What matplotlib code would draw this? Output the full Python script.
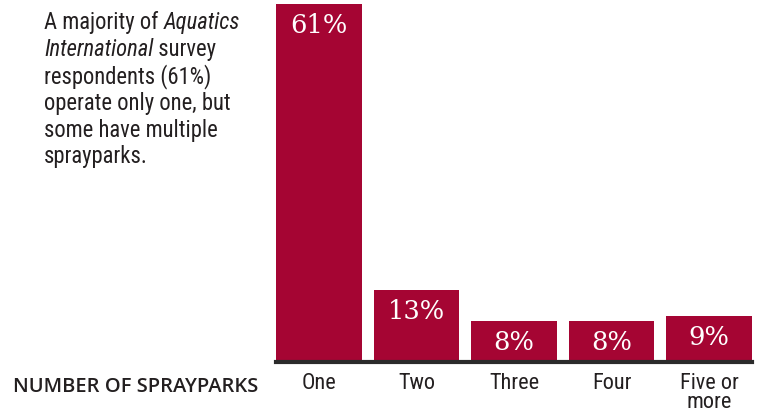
import matplotlib
matplotlib.use('Agg')
import matplotlib.pyplot as plt

categories = ['One', 'Two', 'Three', 'Four', 'Five or\nmore']
# bar heights (percent of respondents)
values = [61, 12.3, 7.0, 7.0, 7.9]
value_labels = ['61%', '13%', '8%', '8%', '9%']
axis_title = 'NUMBER OF SPRAYPARKS'
# caption lines as (text, italic) segments
caption_lines = [
    [('A majority of ', False), ('Aquatics', True)],
    [('International', True), (' survey', False)],
    [('respondents (61%)', False)],
    [('operate only one, but', False)],
    [('some have multiple', False)],
    [('sprayparks.', False)],
]

BAR = '#a50533'
TXT = '#231f20'
NARROW = ['Roboto Condensed', 'DejaVu Sans']
SERIF = ['DejaVu Serif']

W, H = 760, 416
fig = plt.figure(figsize=(W / 100, H / 100), dpi=100)
ax = fig.add_axes([276 / W, (H - 362) / H, 476 / W, 358 / H])
x = list(range(len(values)))
ax.bar(x, values, width=0.88, color=BAR, zorder=2)
ax.set_xlim(-0.44, len(values) - 0.56)
ax.set_ylim(0, max(values))
for s in ax.spines.values():
    s.set_visible(False)
ax.set_yticks([])
ax.axhline(0, color='#2b2b2b', lw=3, zorder=3, clip_on=False)
ax.set_xticks(x)
ax.set_xticklabels(categories, fontsize=16, family=NARROW, color=TXT, linespacing=0.85)
ax.tick_params(axis='x', length=0, pad=8)

for i, (v, lab) in enumerate(zip(values, value_labels)):
    ax.annotate(lab, (i, v), xytext=(0, -6.5), textcoords='offset points',
                ha='center', va='top', color='white', fontsize=18.5, family=SERIF)

fig.text(258 / W, (H - 392) / H, axis_title, ha='right', va='baseline',
         fontsize=14.5, family=['Open Sans', 'DejaVu Sans'], color=TXT, fontweight=600)

renderer = fig.canvas.get_renderer()
x0 = 44
for li, segs in enumerate(caption_lines):
    yb = 29.5 + li * 26.8
    xc = x0
    for txt, it in segs:
        t = fig.text(xc / W, (H - yb) / H, txt, ha='left', va='baseline',
                     fontsize=16.3, family=NARROW, color=TXT,
                     style='italic' if it else 'normal')
        bb = t.get_window_extent(renderer)
        xc += bb.width

fig.savefig('out.png', dpi=100)
